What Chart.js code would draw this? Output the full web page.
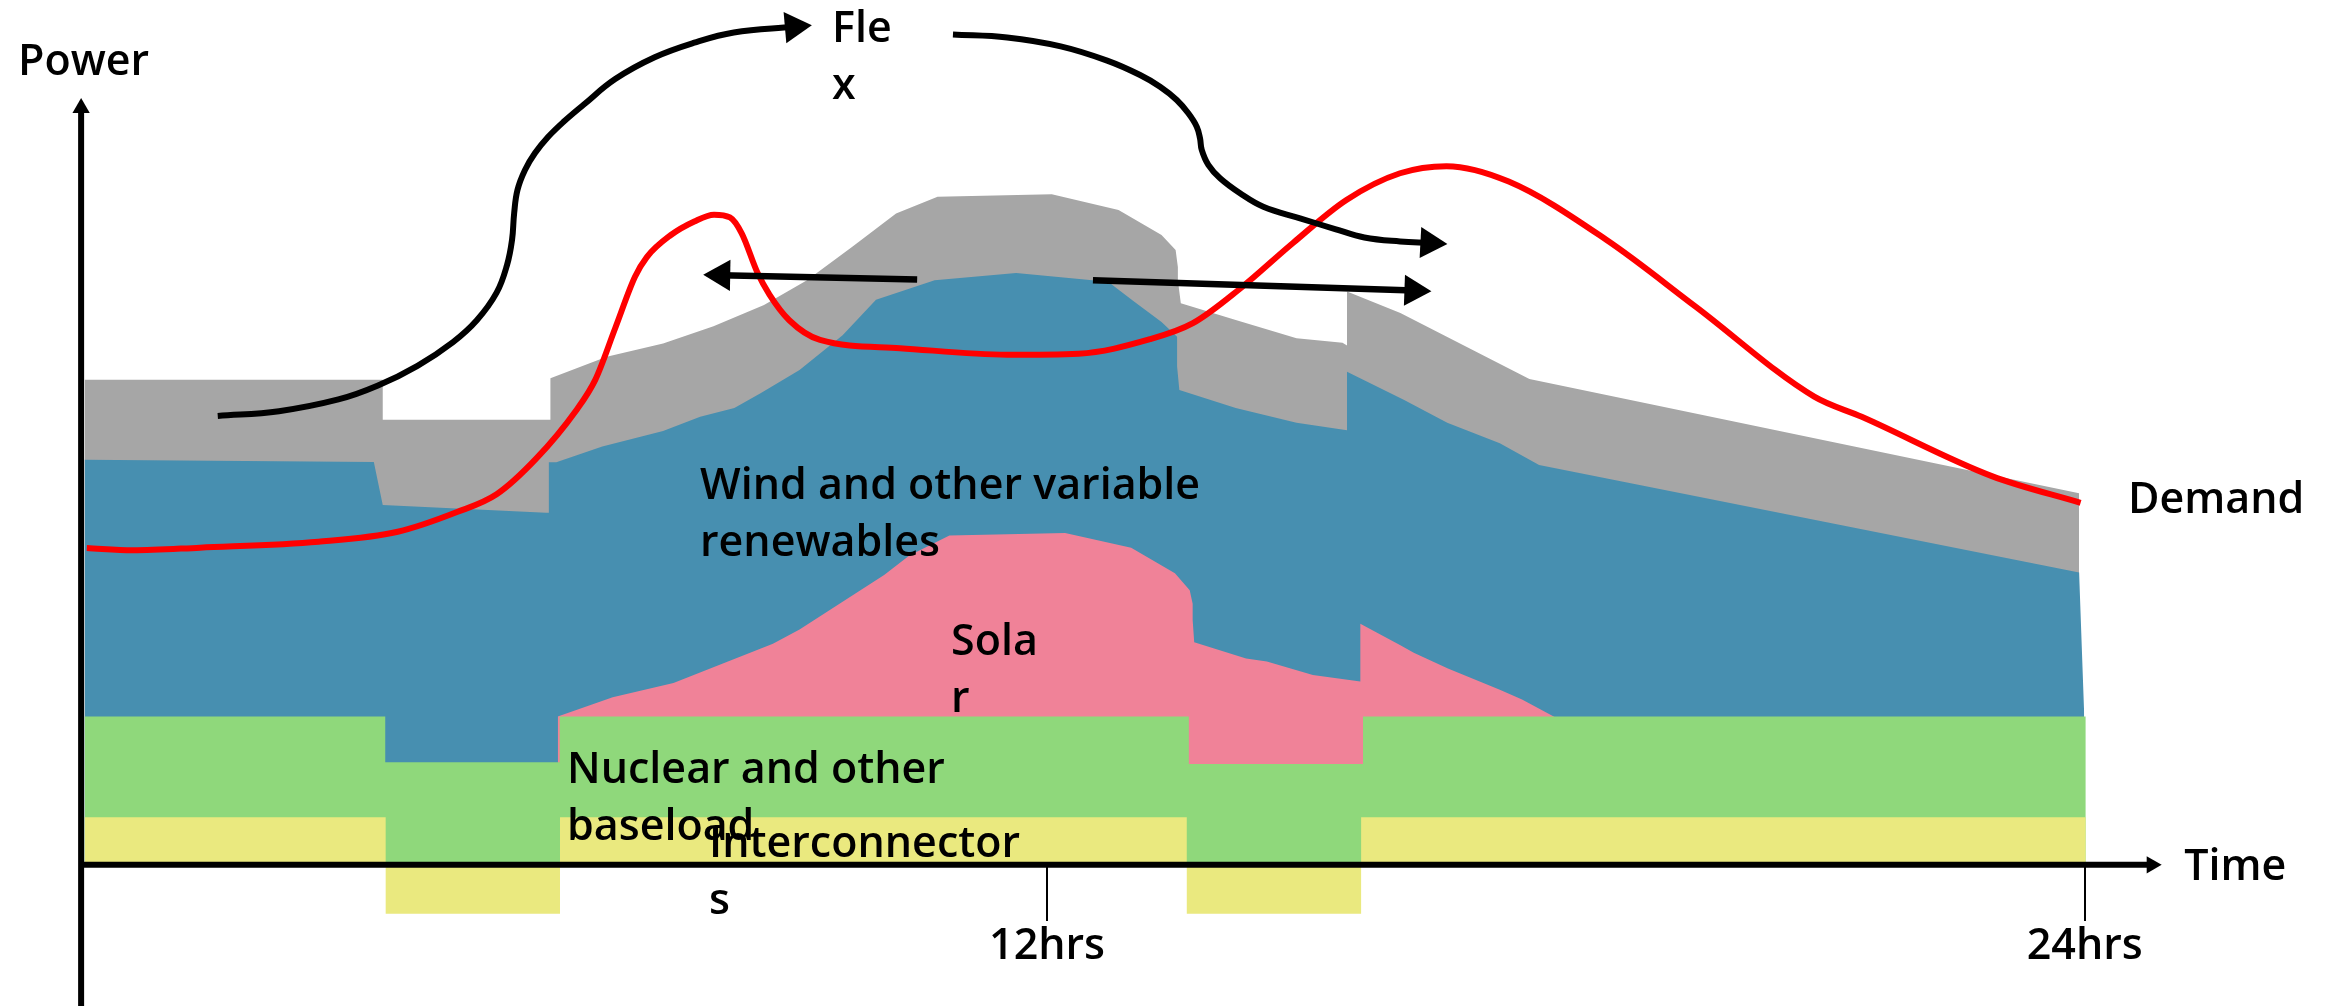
<!DOCTYPE html>
<html>
<head>
<meta charset="utf-8">
<script src="https://cdn.jsdelivr.net/npm/chart.js@4.4.1/dist/chart.umd.min.js"></script>
<style>
  html, body { margin: 0; padding: 0; background: #ffffff; }
  #wrap { width: 2326px; height: 1006px; position: relative; }
</style>
</head>
<body>
<div id="wrap"><canvas id="c" width="2326" height="1006"></canvas></div>
<script>
// ---- Data: time in hours, power in arbitrary units ----
const timeTicks = [12, 24];
const timeTickLabels = ['12hrs', '24hrs'];

const interconnectorHours = [0.87, 4.352, 4.352, 6.368, 6.368, 13.616, 13.616, 15.632, 15.632, 24.012];
const interconnectorPower = [3.2, 3.2, -3.3, -3.3, 3.2, 3.2, -3.3, -3.3, 3.2, 3.2];

const baseloadHours = [0.87, 4.347, 4.347, 6.364, 6.364, 13.64, 13.64, 15.654, 15.654, 24.012];
const baseloadTop   = [10.0, 10.0, 6.92, 6.92, 10.0, 10.0, 6.8, 6.8, 10.0, 10.0];

const solarHours = [6.342, 6.977, 7.68, 8.83, 9.138, 10.116, 10.408, 10.871, 12.209, 12.973, 13.479, 13.65, 13.684, 13.684, 13.702, 14.302, 14.542, 15.074, 15.623, 15.623, 16.086, 16.241, 16.636, 17.236, 17.493, 17.87];
const solarTop   = [10.0, 11.3, 12.25, 14.9, 15.86, 19.54, 20.85, 22.2, 22.37, 21.37, 19.66, 18.5, 17.6, 16.5, 15.0, 13.9, 13.7, 12.8, 12.35, 16.25, 14.8, 14.3, 13.24, 11.8, 11.14, 9.96];

const windHours = [0.87, 4.215, 4.318, 6.205, 6.239, 6.239, 6.325, 6.857, 7.56, 7.989, 8.384, 8.692, 9.138, 9.636, 10.022, 10.70, 11.643, 12.707, 12.998, 13.324, 13.504, 13.504, 13.53, 14.182, 14.885, 15.469, 15.469, 16.13, 16.628, 17.236, 17.69, 23.935, 23.994];
const windTop   = [27.3, 27.15, 24.25, 23.73, 23.73, 27.13, 27.14, 28.2, 29.24, 30.2, 30.8, 31.8, 33.35, 35.7, 38.1, 39.4, 39.9, 39.3, 38.0, 36.6, 35.6, 33.6, 32.0, 30.8, 29.8, 29.3, 33.24, 31.33, 29.8, 28.42, 26.95, 19.7, 10.1];

const flexibleHours = [0.87, 4.318, 4.318, 6.257, 6.257, 6.908, 7.56, 8.143, 8.727, 9.224, 9.756, 10.254, 10.734, 12.055, 12.827, 13.324, 13.487, 13.513, 13.513, 13.547, 14.182, 14.885, 15.417, 15.469, 15.469, 16.086, 17.578, 23.935, 23.935];
const flexibleTop   = [32.7, 32.7, 30.0, 30.0, 32.8, 34.25, 35.15, 36.3, 37.74, 39.4, 41.7, 43.9, 45.04, 45.2, 44.14, 42.46, 41.45, 40.3, 39.4, 37.85, 36.73, 35.5, 35.2, 35.0, 38.64, 37.2, 32.75, 25.04, 19.9];

const demandHours = [0.896, 1.426, 2.205, 3.576, 4.491, 5.177, 5.635, 6.092, 6.548, 6.777, 7.006, 7.235, 7.372, 7.646, 7.921, 8.149, 8.333, 8.469, 8.652, 8.79, 9.019, 9.375, 10.3, 11.539, 12.365, 13.191, 13.687, 14.224, 14.844, 15.462, 16.082, 16.619, 17.339, 18.471, 19.5, 20.872, 21.421, 22.926, 23.952];
const demandPower = [21.36, 21.2, 21.38, 21.78, 22.45, 23.78, 24.98, 27.38, 30.58, 32.71, 36.17, 39.64, 40.97, 42.44, 43.37, 43.83, 43.64, 42.57, 39.91, 38.44, 36.71, 35.38, 34.83, 34.39, 34.46, 35.43, 36.51, 38.8, 41.92, 44.82, 46.62, 47.1, 46.06, 42.12, 37.63, 31.56, 30.2, 26.2, 24.4];

const flexShiftUpHours = [2.41, 3.118, 3.805, 4.263, 4.72, 5.131, 5.406, 5.635, 5.755, 5.813, 5.838, 5.876, 5.963, 6.079, 6.229, 6.406, 6.637, 7.006, 7.463, 7.921, 8.378, 9.073];
const flexShiftUpPower = [30.26, 30.58, 31.37, 32.31, 33.64, 35.24, 36.71, 38.57, 40.43, 42.12, 43.94, 45.49, 46.84, 47.98, 49.06, 50.07, 51.22, 52.97, 54.44, 55.42, 56.11, 56.49];

const flexShiftDownHours = [10.912, 11.539, 12.158, 12.695, 13.076, 13.307, 13.5, 13.634, 13.731, 13.769, 13.789, 13.865, 14.001, 14.232, 14.501, 14.926, 15.331, 15.67, 16.082, 16.422];
const flexShiftDownPower = [55.97, 55.77, 55.17, 54.21, 53.24, 52.45, 51.56, 50.66, 49.76, 48.98, 48.19, 47.18, 46.28, 45.27, 44.36, 43.58, 42.86, 42.29, 42.02, 41.92];

const shiftEarlierHours = [10.498, 8.232];
const shiftEarlierPower = [39.45, 39.75];
const shiftLaterHours = [12.531, 16.237];
const shiftLaterPower = [39.4, 38.71];

const powerAxisHours = [0.83, 0.83];
const powerAxisPower = [-9.6, 51.02];
const timeAxisHours = [0.83, 24.774];
const timeAxisPower = [0, 0];

// ---- Text annotations (anchored in data coordinates) ----
const annotations = [
  { lines: ['Power'], h: 0.100, v: 53.24 },
  { lines: ['Fle', 'x'], h: 9.514, v: 55.47 },
  { lines: ['Wind and other variable', 'renewables'], h: 7.987, v: 24.66 },
  { lines: ['Sola', 'r'], h: 10.89, v: 14.14 },
  { lines: ['Nuclear and other', 'baseload'], h: 6.449, v: 5.52 },
  { lines: ['Interconnector', 's'], h: 8.092, v: 0.53 },
  { lines: ['Demand'], h: 24.50, v: 23.72 },
  { lines: ['Time'], h: 25.15, v: -1.02 }
];

const FONT = "'Open Sans', 'DejaVu Sans', sans-serif";
const zip = (xs, ys) => xs.map((x, i) => ({ x: x, y: ys[i] }));

function area(label, xs, ys, color, order) {
  return {
    label, data: zip(xs, ys), order,
    borderWidth: 0, borderColor: color, backgroundColor: color,
    fill: 'origin', pointRadius: 0, tension: 0
  };
}
function arrow(label, xs, ys, rot, headR, width, tension, order) {
  const last = xs.length - 1;
  return {
    label, data: zip(xs, ys), order,
    borderColor: '#000', borderWidth: width, fill: false, tension: tension,
    borderCapStyle: 'butt', borderJoinStyle: 'round',
    pointStyle: 'triangle', pointRotation: rot,
    pointRadius: c => (c.dataIndex === last ? headR : 0),
    pointBackgroundColor: '#000', pointBorderWidth: 0, pointBorderColor: '#000'
  };
}

const textPlugin = {
  id: 'textAnnotations',
  afterDatasetsDraw(chart) {
    const { ctx, scales } = chart;
    ctx.save();
    ctx.fillStyle = '#000';
    ctx.font = '600 43px ' + FONT;
    ctx.textAlign = 'left';
    ctx.textBaseline = 'alphabetic';
    annotations.forEach(a => {
      const x = scales.x.getPixelForValue(a.h);
      const y = scales.y.getPixelForValue(a.v);
      a.lines.forEach((t, i) => ctx.fillText(t, x, y + i * 57));
    });
    ctx.restore();
  }
};

new Chart(document.getElementById('c'), {
  type: 'line',
  data: {
    datasets: [
      area('Flexible generation', flexibleHours, flexibleTop, '#a6a6a6', 20),
      area('Wind and other variable renewables', windHours, windTop, '#478fb0', 19),
      area('Solar', solarHours, solarTop, '#f08298', 18),
      area('Nuclear and other baseload', baseloadHours, baseloadTop, '#8fd87b', 17),
      area('Interconnectors', interconnectorHours, interconnectorPower, '#eae97f', 16),
      {
        label: 'Demand', data: zip(demandHours, demandPower), order: 10,
        borderColor: '#ff0000', borderWidth: 6, fill: false, pointRadius: 0,
        borderJoinStyle: 'round', cubicInterpolationMode: 'monotone'
      },
      arrow('Flex up', flexShiftUpHours, flexShiftUpPower, 85, 18, 6, 0.4, 5),
      arrow('Flex down', flexShiftDownHours, flexShiftDownPower, 93, 18, 6, 0.4, 5),
      arrow('Shift earlier', shiftEarlierHours, shiftEarlierPower, 271, 18, 6.5, 0, 5),
      arrow('Shift later', shiftLaterHours, shiftLaterPower, 92, 18, 6.5, 0, 5),
      arrow('Time axis', timeAxisHours, timeAxisPower, 90, 10, 6, 0, 2),
      arrow('Power axis', powerAxisHours, powerAxisPower, 0, 10, 6, 0, 2)
    ]
  },
  options: {
    responsive: false,
    animation: false,
    devicePixelRatio: 1,
    events: [],
    layout: { padding: 0, autoPadding: false },
    plugins: { legend: { display: false }, tooltip: { enabled: false }, title: { display: false } },
    scales: {
      x: {
        type: 'linear', min: -0.108, max: 26.79,
        position: { y: 0 },
        afterBuildTicks: s => { s.ticks = timeTicks.map(v => ({ value: v })); },
        ticks: {
          callback: (v, i) => timeTickLabels[i],
          autoSkip: false, maxRotation: 0, minRotation: 0, padding: 0,
          color: '#000', font: { family: FONT, size: 43, weight: '600' }
        },
        grid: { display: true, drawOnChartArea: false, drawTicks: true, tickLength: 56, color: '#000', lineWidth: 2 },
        border: { display: false }
      },
      y: {
        type: 'linear', min: -9.52, max: 58.3, display: false
      }
    }
  },
  plugins: [textPlugin]
});
</script>
</body>
</html>
